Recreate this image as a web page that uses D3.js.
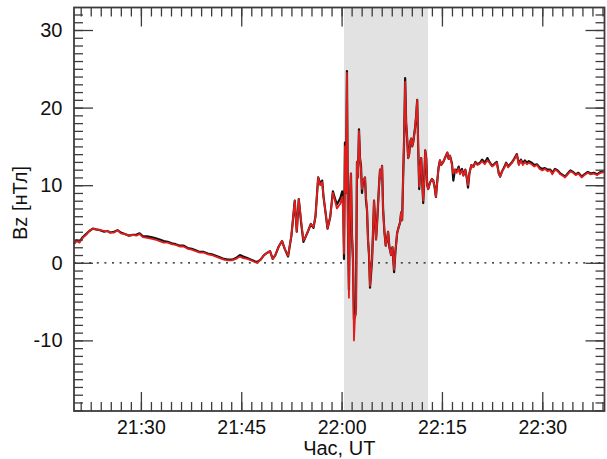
<!DOCTYPE html>
<html>
<head>
<meta charset="utf-8">
<script src="https://cdn.jsdelivr.net/npm/d3@7"></script>
<style>
  body { margin: 0; background: #fff; }
  svg { display: block; }
  text { font-family: "Liberation Sans", Arial, Helvetica, sans-serif; fill: #111; }
</style>
</head>
<body>
<svg id="chart" width="607" height="459"></svg>
<script>
// Bz component of the magnetic field, two instruments, minutes after 21:00 UT
const minutes = [
  20.0,20.4,20.8,21.3,21.8,22.3,22.8,23.3,23.9,24.5,
  25.0,25.4,26.0,26.5,27.0,27.6,28.2,28.8,29.3,29.8,
  30.3,30.9,31.5,32.1,32.8,33.4,34.0,34.6,35.2,35.8,
  36.4,37.0,37.6,38.2,38.8,39.4,40.0,40.6,41.2,41.8,
  42.4,43.0,43.6,44.2,44.8,45.3,45.9,46.5,47.0,47.4,
  47.9,48.4,48.9,49.3,49.7,50.1,50.6,51.1,51.5,52.0,
  52.5,53.0,53.3,53.6,54.0,54.3,54.6,55.0,55.4,55.8,
  56.1,56.5,56.8,57.1,57.3,57.6,57.9,58.3,58.7,59.0,
  59.3,59.8,60.1,60.25,60.36,60.5,60.65,60.8,60.95,61.1,
  61.25,61.4,61.55,61.7,61.85,62.0,62.15,62.3,62.45,62.6,
  62.75,62.9,63.05,63.2,63.5,63.65,63.8,63.95,64.1,64.25,
  64.4,64.55,64.7,64.85,65.0,65.15,65.3,65.45,65.6,65.75,
  65.9,66.05,66.2,66.4,66.6,66.8,66.95,67.15,67.4,67.6,
  67.85,68.05,68.3,68.5,68.75,68.9,69.05,69.2,69.35,69.5,
  69.65,69.8,69.95,70.1,70.25,70.4,70.55,70.7,70.85,71.0,
  71.15,71.3,71.45,71.6,71.75,71.9,72.05,72.2,72.35,72.5,
  72.65,72.8,72.95,73.2,73.5,73.7,73.9,74.1,74.3,74.5,
  74.7,74.9,75.2,75.5,75.8,76.0,76.2,76.5,76.7,76.95,
  77.2,77.5,77.7,78.0,78.2,78.5,78.7,78.9,79.1,79.4,
  79.7,80.0,80.3,80.7,81.0,81.4,81.8,82.1,82.5,82.9,
  83.2,83.5,83.7,84.0,84.3,84.6,84.9,85.2,85.5,85.8,
  86.2,86.5,86.8,87.1,87.4,87.7,88.0,88.4,88.8,89.2,
  89.6,90.0,90.4,90.8,91.2,91.5,91.9,92.3,92.7,93.1,
  93.4,93.8,94.2,94.6,95.0,95.4,95.9,96.3,96.8,97.2,
  97.7,98.2,98.7,99.3
];

const bzBlack = [
  2.5,2.9,2.7,3.3,3.7,4.1,4.4,4.3,4.2,4.0,
  4.1,3.9,4.0,4.2,3.9,3.7,3.5,3.6,3.6,3.8,
  3.4,3.4,3.3,3.2,3.0,2.8,2.7,2.5,2.4,2.2,
  2.2,1.9,1.8,1.6,1.4,1.4,1.2,1.1,0.9,0.7,
  0.5,0.4,0.4,0.6,1.0,0.8,0.6,0.4,0.2,0.1,
  0.4,1.0,1.3,1.5,0.5,1.0,2.1,2.8,1.8,0.8,
  3.5,8.0,4.0,8.2,4.8,2.7,3.3,4.1,5.0,4.5,
  6.0,11.0,10.2,10.6,8.5,6.5,4.4,5.9,9.2,8.3,
  7.5,8.3,9.2,7.5,0.5,15.5,9.0,24.7,5.0,-3.5,
  8.0,11.5,3.5,0.5,-7.3,-7.0,-6.0,13.0,11.0,17.2,
  13.5,12.5,9.0,10.5,11.0,8.0,6.8,3.0,1.0,-3.2,
  -1.5,0.3,4.0,8.0,5.5,3.0,5.0,7.5,10.0,12.0,
  11.0,12.5,7.0,4.0,2.2,3.0,4.0,2.0,1.0,2.0,
  -1.2,1.5,3.8,4.5,5.2,6.5,5.5,11.0,16.0,23.8,
  18.0,16.0,13.5,14.0,15.5,16.0,15.0,15.5,16.5,17.5,
  19.0,21.0,15.0,9.5,12.0,13.5,10.5,7.7,10.5,14.5,
  13.5,10.0,9.5,10.3,10.8,10.6,9.8,8.5,10.5,12.3,
  13.2,12.6,13.0,13.6,14.2,13.4,13.8,12.8,10.6,12.0,
  11.8,12.4,11.6,12.1,11.3,12.0,11.0,9.7,11.5,12.6,
  12.4,13.0,12.7,12.9,13.3,12.9,13.5,13.0,12.5,12.8,
  13.0,11.5,11.1,11.8,12.3,12.9,12.4,12.7,13.0,13.4,
  14.0,12.7,13.3,12.8,13.2,12.9,13.1,12.9,12.6,12.7,
  12.3,12.1,12.2,12.0,12.0,11.6,12.1,11.9,11.5,11.3,
  11.1,11.5,11.9,11.7,11.4,11.6,11.1,11.4,11.7,11.5,
  11.6,11.4,11.7,11.8
];

const bzRed = [
  2.4,2.8,2.6,3.2,3.6,4.1,4.4,4.3,4.2,4.1,
  4.1,3.9,3.9,4.2,3.8,3.7,3.5,3.6,3.5,3.7,
  3.3,3.2,3.1,3.0,2.8,2.6,2.6,2.4,2.3,2.1,
  2.1,1.8,1.7,1.5,1.3,1.3,1.1,1.0,0.8,0.6,
  0.4,0.3,0.3,0.5,0.8,0.6,0.5,0.3,0.1,0.0,
  0.4,1.0,1.3,1.5,0.5,1.0,2.1,2.8,1.8,0.9,
  3.5,8.0,4.0,8.2,5.0,2.9,3.3,4.1,5.0,4.6,
  6.0,11.0,10.0,10.4,8.5,6.5,4.4,5.9,9.0,8.0,
  7.0,7.6,8.5,6.0,1.2,15.0,9.0,24.5,5.0,-4.5,
  8.0,11.5,3.5,0.5,-10.0,-7.0,-6.5,13.0,11.0,17.0,
  13.5,12.0,9.5,10.5,11.0,8.5,6.8,3.0,1.0,-3.0,
  -1.0,0.5,4.0,8.0,5.5,3.0,5.0,7.5,10.0,12.0,
  11.0,12.5,7.0,4.0,2.2,3.0,4.0,2.0,1.0,2.0,
  -0.9,1.5,3.8,4.5,5.2,6.5,5.5,11.0,16.0,23.3,
  18.0,16.0,13.5,14.0,15.5,16.0,15.0,15.5,16.5,17.5,
  19.0,21.0,15.0,9.8,12.0,13.5,10.5,8.0,10.5,14.5,
  13.5,10.0,9.5,10.3,10.8,10.6,9.8,8.5,10.5,12.3,
  13.2,12.6,13.0,13.6,14.2,13.4,13.8,12.6,11.5,12.0,
  11.6,12.2,11.4,11.9,11.2,12.0,11.0,10.0,11.5,12.6,
  12.3,12.9,12.6,12.8,13.1,12.7,13.2,12.9,12.4,12.7,
  12.9,11.5,11.1,11.8,12.2,12.8,12.3,12.6,12.9,13.3,
  13.9,12.6,13.2,12.6,13.0,12.7,12.9,12.7,12.4,12.6,
  12.1,11.9,12.1,11.8,11.9,11.4,12.0,11.8,11.4,11.2,
  11.0,11.4,11.8,11.6,11.3,11.5,11.0,11.3,11.6,11.4,
  11.5,11.3,11.6,11.7
];

const timeRange = ["21:20:00", "22:39:18"];
const shadedInterval = ["22:00:22", "22:12:55"];
const xTickLabels = ["21:30", "21:45", "22:00", "22:15", "22:30"];
const yTickValues = [-10, 0, 10, 20, 30];
const yDomain = [-19.1, 32.9];
const xTitle = "Час, UT";
const yTitle = "Bz [нТл]";

// ---- helpers ----
const day = "2000-01-01 ";
const parseT = d3.timeParse("%Y-%m-%d %H:%M:%S");
const at = s => parseT(day + (s.length === 5 ? s + ":00" : s));
const base = at("21:00:00");
const fromMinutes = m => new Date(base.getTime() + m * 60000);

const svg = d3.select("#chart");
const L = 74, R = 604.5, T = 7.5, B = 411;

const x = d3.scaleTime().domain(timeRange.map(at)).range([L, R]);
const y = d3.scaleLinear().domain(yDomain).range([B, T]);

// shaded interval
svg.append("rect")
  .attr("x", x(at(shadedInterval[0])))
  .attr("y", T)
  .attr("width", x(at(shadedInterval[1])) - x(at(shadedInterval[0])))
  .attr("height", B - T)
  .attr("fill", "#e2e2e2");

// zero reference line
svg.append("line")
  .attr("x1", L).attr("x2", R)
  .attr("y1", y(0)).attr("y2", y(0))
  .attr("stroke", "#111").attr("stroke-width", 1.2)
  .attr("stroke-dasharray", "2,5.6");

// traces
const seriesBlack = minutes.map((m, i) => [fromMinutes(m), bzBlack[i]]);
const seriesRed = minutes.map((m, i) => [fromMinutes(m), bzRed[i]]);
const line = d3.line().x(d => x(d[0])).y(d => y(d[1]));

svg.append("path").datum(seriesBlack)
  .attr("d", line).attr("fill", "none")
  .attr("stroke", "#111").attr("stroke-width", 2.2)
  .attr("stroke-linejoin", "round");
svg.append("path").datum(seriesRed)
  .attr("d", line).attr("fill", "none")
  .attr("stroke", "#e01e1e").attr("stroke-width", 1.8)
  .attr("stroke-linejoin", "round");

// ---- axes ----
const majorX = xTickLabels.map(at);
const minorX = [];
for (let t = majorX[0].getTime() - 6 * 90000; t <= x.domain()[1].getTime(); t += 90000) {
  if (t >= x.domain()[0].getTime()) minorX.push(new Date(t));
}
const minorY = d3.range(-19, 33, 1);
const fmt = d3.timeFormat("%H:%M");
const axisColor = "#3c3c3c";

function styleAxis(g) {
  g.select(".domain").remove();
  g.selectAll(".tick line").attr("stroke", axisColor).attr("stroke-width", 1.3);
  g.selectAll(".tick text").attr("fill", "#111");
}

// bottom
svg.append("g").attr("transform", `translate(0,${B})`)
  .call(d3.axisBottom(x).tickValues(minorX).tickSizeInner(-9).tickSizeOuter(0).tickFormat(""))
  .call(styleAxis);
svg.append("g").attr("transform", `translate(0,${B})`)
  .call(d3.axisBottom(x).tickValues(majorX).tickSizeInner(-19).tickSizeOuter(0)
    .tickPadding(9).tickFormat(fmt))
  .call(styleAxis)
  .call(g => g.selectAll("text").attr("font-size", 19.5));

// top
svg.append("g").attr("transform", `translate(0,${T})`)
  .call(d3.axisTop(x).tickValues(minorX).tickSizeInner(-9).tickSizeOuter(0).tickFormat(""))
  .call(styleAxis);
svg.append("g").attr("transform", `translate(0,${T})`)
  .call(d3.axisTop(x).tickValues(majorX).tickSizeInner(-19).tickSizeOuter(0).tickFormat(""))
  .call(styleAxis);

// left
svg.append("g").attr("transform", `translate(${L},0)`)
  .call(d3.axisLeft(y).tickValues(minorY).tickSizeInner(-9).tickSizeOuter(0).tickFormat(""))
  .call(styleAxis);
svg.append("g").attr("transform", `translate(${L},0)`)
  .call(d3.axisLeft(y).tickValues(yTickValues).tickSizeInner(-19).tickSizeOuter(0)
    .tickPadding(11.5).tickFormat(d => String(d)))
  .call(styleAxis)
  .call(g => g.selectAll("text").attr("font-size", 20));

// right
svg.append("g").attr("transform", `translate(${R},0)`)
  .call(d3.axisRight(y).tickValues(minorY).tickSizeInner(-9).tickSizeOuter(0).tickFormat(""))
  .call(styleAxis);
svg.append("g").attr("transform", `translate(${R},0)`)
  .call(d3.axisRight(y).tickValues(yTickValues).tickSizeInner(-19).tickSizeOuter(0).tickFormat(""))
  .call(styleAxis);

// frame
svg.append("rect")
  .attr("x", L).attr("y", T).attr("width", R - L).attr("height", B - T)
  .attr("fill", "none").attr("stroke", axisColor).attr("stroke-width", 1.8);

// titles
svg.append("text")
  .attr("x", (L + R) / 2).attr("y", 455)
  .attr("text-anchor", "middle").attr("font-size", 20)
  .text(xTitle);
svg.append("text")
  .attr("transform", "translate(27,203) rotate(-90)")
  .attr("text-anchor", "middle").attr("font-size", 20)
  .text(yTitle);
</script>
</body>
</html>
